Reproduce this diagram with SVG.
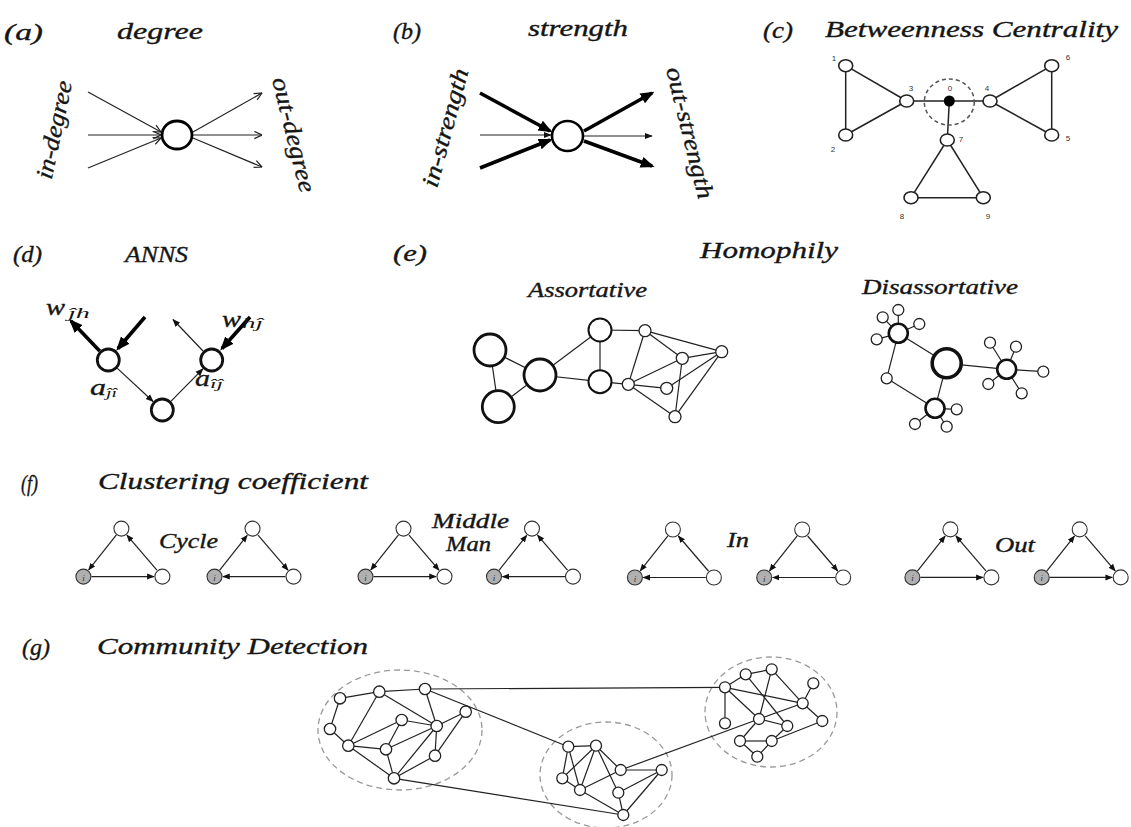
<svg xmlns="http://www.w3.org/2000/svg" width="1131" height="827" viewBox="0 0 1131 827">
<defs>
<style>
.t{font-family:"Liberation Serif","Times New Roman",serif;font-style:italic;fill:#151515;stroke:#151515;stroke-width:0.35}
.sub{stroke:none}
.h{font-size:23px}
.s{font-size:20px}
.num{font-family:"Liberation Sans",Arial,sans-serif;font-size:8px;fill:#333;text-anchor:middle}
.thin{stroke:#222;stroke-width:1.2;fill:none}
.thick{stroke:#000;stroke-width:3.6;fill:none}
.e{stroke:#222;stroke-width:1.2;fill:none}
.ec{stroke:#222;stroke-width:1.5;fill:none}
.n{fill:#fff;stroke:#222;stroke-width:1.3}
.nc{fill:#fff;stroke:#222;stroke-width:1.6}
.nb{fill:#fff;stroke:#111;stroke-width:2.8}
.nm{fill:#fff;stroke:#111;stroke-width:2}
.gi{fill:#b0b0b0;stroke:#333;stroke-width:1.1}
.fi{fill:#fff;stroke:#333;stroke-width:1.1}
.il{font-family:"Liberation Serif",serif;font-style:italic;font-size:9px;fill:#333;text-anchor:middle}
.dash{fill:none;stroke:#999;stroke-width:1.3;stroke-dasharray:6 4}
.dashc{fill:none;stroke:#555;stroke-width:1.5;stroke-dasharray:4 3}
</style>
<marker id="vOpen" viewBox="0 0 10 10" refX="9.5" refY="5" markerWidth="9" markerHeight="9" orient="auto" markerUnits="userSpaceOnUse"><path d="M1,1 L9.5,5 L1,9" fill="none" stroke="#222" stroke-width="1.3"/></marker>
<marker id="triB" viewBox="0 0 10 10" refX="8" refY="5" markerWidth="14" markerHeight="14" orient="auto" markerUnits="userSpaceOnUse"><path d="M0,1 L10,5 L0,9 z" fill="#000"/></marker>
<marker id="triS" viewBox="0 0 10 10" refX="9" refY="5" markerWidth="8" markerHeight="8" orient="auto" markerUnits="userSpaceOnUse"><path d="M0,1 L10,5 L0,9 z" fill="#111"/></marker>
<marker id="triF" viewBox="0 0 10 10" refX="9" refY="5" markerWidth="7.5" markerHeight="7.5" orient="auto" markerUnits="userSpaceOnUse"><path d="M0,1 L10,5 L0,9 z" fill="#111"/></marker>
</defs>
<rect width="1131" height="827" fill="#fff"/>

<g id="titles">
<text class="t h" x="4" y="40" textLength="39" lengthAdjust="spacingAndGlyphs">(a)</text>
<text class="t h" x="117" y="39" textLength="86" lengthAdjust="spacingAndGlyphs">degree</text>
<text class="t h" x="393" y="39" textLength="28" lengthAdjust="spacingAndGlyphs">(b)</text>
<text class="t h" x="528" y="36" textLength="100" lengthAdjust="spacingAndGlyphs">strength</text>
<text class="t h" x="763" y="38" textLength="30" lengthAdjust="spacingAndGlyphs">(c)</text>
<text class="t h" x="825" y="37" textLength="293" lengthAdjust="spacingAndGlyphs">Betweenness Centrality</text>
<text class="t h" x="13" y="262" textLength="29" lengthAdjust="spacingAndGlyphs">(d)</text>
<text class="t h" x="125" y="262" textLength="63" lengthAdjust="spacingAndGlyphs">ANNS</text>
<text class="t h" x="393" y="261" textLength="34" lengthAdjust="spacingAndGlyphs">(e)</text>
<text class="t h" x="700" y="258" textLength="138" lengthAdjust="spacingAndGlyphs">Homophily</text>
<text class="t s" x="528" y="297" textLength="119" lengthAdjust="spacingAndGlyphs">Assortative</text>
<text class="t s" x="862" y="294" textLength="156" lengthAdjust="spacingAndGlyphs">Disassortative</text>
<text class="t h" x="21" y="491" textLength="17" lengthAdjust="spacingAndGlyphs">(f)</text>
<text class="t h" x="98" y="489" textLength="270" lengthAdjust="spacingAndGlyphs">Clustering coefficient</text>
<text class="t s" x="159" y="548" textLength="59" lengthAdjust="spacingAndGlyphs">Cycle</text>
<text class="t s" x="432" y="528" textLength="77" lengthAdjust="spacingAndGlyphs">Middle</text>
<text class="t s" x="446" y="551" textLength="45" lengthAdjust="spacingAndGlyphs">Man</text>
<text class="t s" x="727" y="547" textLength="22" lengthAdjust="spacingAndGlyphs">In</text>
<text class="t s" x="995" y="552" textLength="40" lengthAdjust="spacingAndGlyphs">Out</text>
<text class="t h" x="22" y="655" textLength="28" lengthAdjust="spacingAndGlyphs">(g)</text>
<text class="t h" x="97" y="654" textLength="271" lengthAdjust="spacingAndGlyphs">Community Detection</text>
</g>

<g id="panel-a">
<g id="a-node"><ellipse cx="177" cy="135" rx="15" ry="14" fill="#fff" stroke="#000" stroke-width="2.8"/></g>
<g id="a-connectors">
<line class="thin" x1="88" y1="92" x2="161" y2="132" marker-end="url(#vOpen)"/>
<line class="thin" x1="88" y1="135" x2="161" y2="135" marker-end="url(#vOpen)"/>
<line class="thin" x1="88" y1="168" x2="161" y2="138" marker-end="url(#vOpen)"/>
<line class="thin" x1="193" y1="132" x2="262" y2="93" marker-end="url(#vOpen)"/>
<line class="thin" x1="193" y1="135" x2="262" y2="135" marker-end="url(#vOpen)"/>
<line class="thin" x1="193" y1="138" x2="262" y2="167" marker-end="url(#vOpen)"/>
</g>
<text class="t" font-size="24" text-anchor="middle" transform="translate(55,130) rotate(-78)" x="0" y="7" textLength="100" lengthAdjust="spacingAndGlyphs">in-degree</text>
<text class="t" font-size="24" text-anchor="middle" transform="translate(293,135) rotate(76)" x="0" y="7" textLength="118" lengthAdjust="spacingAndGlyphs">out-degree</text>
</g>

<g id="panel-b">
<g id="b-node"><ellipse cx="567.5" cy="136" rx="15.5" ry="15" fill="#fff" stroke="#000" stroke-width="2.6"/></g>
<g id="b-connectors">
<line class="thick" x1="480" y1="93" x2="550" y2="131" marker-end="url(#triB)"/>
<line class="thin" x1="480" y1="135" x2="551" y2="135" marker-end="url(#triS)"/>
<line class="thick" x1="480" y1="168" x2="550" y2="140" marker-end="url(#triB)"/>
<line class="thick" x1="584" y1="131" x2="652" y2="93" marker-end="url(#triB)"/>
<line class="thin" x1="584" y1="136" x2="652" y2="136" marker-end="url(#triS)"/>
<line class="thick" x1="584" y1="141" x2="652" y2="166" marker-end="url(#triB)"/>
</g>
<text class="t" font-size="24" text-anchor="middle" transform="translate(446,128) rotate(-75)" x="0" y="7" textLength="122" lengthAdjust="spacingAndGlyphs">in-strength</text>
<text class="t" font-size="24" text-anchor="middle" transform="translate(689,133) rotate(76)" x="0" y="7" textLength="135" lengthAdjust="spacingAndGlyphs">out-strength</text>
</g>

<g id="panel-c">
<g id="c-connectors">
<line class="ec" x1="845.7" y1="65.7" x2="845.7" y2="135"/>
<line class="ec" x1="845.7" y1="65.7" x2="906.7" y2="101"/>
<line class="ec" x1="845.7" y1="135" x2="906.7" y2="101"/>
<line class="ec" x1="906.7" y1="101" x2="949.3" y2="101"/>
<line class="ec" x1="949.3" y1="101" x2="990" y2="101"/>
<line class="ec" x1="990" y1="101" x2="1051.7" y2="65.7"/>
<line class="ec" x1="990" y1="101" x2="1051.7" y2="135"/>
<line class="ec" x1="1051.7" y1="65.7" x2="1051.7" y2="135"/>
<line class="ec" x1="949.3" y1="101" x2="947.3" y2="140"/>
<line class="ec" x1="947.3" y1="140" x2="911" y2="197.7"/>
<line class="ec" x1="947.3" y1="140" x2="983.3" y2="197.7"/>
<line class="ec" x1="911" y1="197.7" x2="983.3" y2="197.7"/>
</g>
<ellipse cx="949.3" cy="102" rx="25" ry="23" class="dashc"/>
<g id="c-n1"><ellipse class="nc" cx="845.7" cy="65.7" rx="7" ry="6"/><text class="num" x="834" y="61">1</text></g>
<g id="c-n2"><ellipse class="nc" cx="845.7" cy="135" rx="7" ry="6"/><text class="num" x="833" y="152">2</text></g>
<g id="c-n3"><ellipse class="nc" cx="906.7" cy="101" rx="7" ry="6"/><text class="num" x="911" y="91">3</text></g>
<g id="c-n0"><ellipse cx="949.3" cy="101" rx="5.5" ry="5.5" fill="#000"/><text class="num" x="950" y="91">0</text></g>
<g id="c-n4"><ellipse class="nc" cx="990" cy="101" rx="7" ry="6"/><text class="num" x="987" y="91">4</text></g>
<g id="c-n6"><ellipse class="nc" cx="1051.7" cy="65.7" rx="7" ry="6"/><text class="num" x="1068" y="60">6</text></g>
<g id="c-n5"><ellipse class="nc" cx="1051.7" cy="135" rx="7" ry="6"/><text class="num" x="1068" y="141">5</text></g>
<g id="c-n7"><ellipse class="nc" cx="947.3" cy="140" rx="7" ry="6"/><text class="num" x="961" y="142">7</text></g>
<g id="c-n8"><ellipse class="nc" cx="911" cy="197.7" rx="7" ry="6"/><text class="num" x="902" y="219">8</text></g>
<g id="c-n9"><ellipse class="nc" cx="983.3" cy="197.7" rx="7" ry="6"/><text class="num" x="988" y="219">9</text></g>
</g>

<g id="panel-d">
<g id="d-connectors">
<line class="thick" x1="99.7" y1="351" x2="71" y2="321" marker-end="url(#triB)"/>
<line class="thick" x1="145" y1="317" x2="118" y2="348.5" marker-end="url(#triB)"/>
<line class="thin" x1="203" y1="351" x2="173" y2="319.5" marker-end="url(#triS)"/>
<line class="thick" x1="250" y1="317" x2="222" y2="348.5" marker-end="url(#triB)"/>
<line class="thin" x1="117.1" y1="368.1" x2="153.1" y2="401.5" marker-end="url(#triS)"/>
<line class="thin" x1="171.1" y1="401.1" x2="202.9" y2="368.9" marker-end="url(#triS)"/>
</g>
<g id="d-nL"><circle class="nb" cx="108.3" cy="360" r="11"/></g>
<g id="d-nR"><circle class="nb" cx="211.7" cy="360" r="11"/></g>
<g id="d-nB"><circle class="nb" cx="162.3" cy="410" r="11"/></g>
<text class="t" font-size="24" x="46" y="315" textLength="19" lengthAdjust="spacingAndGlyphs">w</text>
<text class="t sub" font-size="14" x="68" y="318" textLength="22" lengthAdjust="spacingAndGlyphs">ĵh</text>
<text class="t" font-size="24" x="222" y="327" textLength="19" lengthAdjust="spacingAndGlyphs">w</text>
<text class="t sub" font-size="14" x="242" y="328" textLength="21" lengthAdjust="spacingAndGlyphs">hĵ</text>
<text class="t" font-size="24" x="90" y="395" textLength="16" lengthAdjust="spacingAndGlyphs">a</text>
<text class="t sub" font-size="13" x="106" y="397" textLength="11" lengthAdjust="spacingAndGlyphs">ĵî</text>
<text class="t" font-size="24" x="195" y="386" textLength="15" lengthAdjust="spacingAndGlyphs">a</text>
<text class="t sub" font-size="13" x="210" y="388" textLength="13" lengthAdjust="spacingAndGlyphs">îĵ</text>
</g>

<g id="panel-e-assortative">
<g id="e1-connectors">
<line class="e" x1="490" y1="350" x2="498.3" y2="406.7"/>
<line class="e" x1="490" y1="350" x2="540" y2="375"/>
<line class="e" x1="498.3" y1="406.7" x2="540" y2="375"/>
<line class="e" x1="540" y1="375" x2="600" y2="330"/>
<line class="e" x1="540" y1="375" x2="600" y2="381.7"/>
<line class="e" x1="600" y1="330" x2="600" y2="381.7"/>
<line class="e" x1="600" y1="330" x2="645" y2="330.7"/>
<line class="e" x1="600" y1="381.7" x2="628.3" y2="384.3"/>
<line class="e" x1="645" y1="330.7" x2="628.3" y2="384.3"/>
<line class="e" x1="645" y1="330.7" x2="682.3" y2="358.3"/>
<line class="e" x1="645" y1="330.7" x2="721.7" y2="351.7"/>
<line class="e" x1="682.3" y1="358.3" x2="721.7" y2="351.7"/>
<line class="e" x1="682.3" y1="358.3" x2="628.3" y2="384.3"/>
<line class="e" x1="682.3" y1="358.3" x2="675" y2="416.7"/>
<line class="e" x1="628.3" y1="384.3" x2="666.7" y2="388.3"/>
<line class="e" x1="628.3" y1="384.3" x2="675" y2="416.7"/>
<line class="e" x1="666.7" y1="388.3" x2="721.7" y2="351.7"/>
<line class="e" x1="675" y1="416.7" x2="721.7" y2="351.7"/>
</g>
<g id="e1-A"><circle class="nb" cx="490" cy="350" r="16"/></g>
<g id="e1-B"><circle class="nb" cx="498.3" cy="406.7" r="16"/></g>
<g id="e1-C"><circle class="nb" cx="540" cy="375" r="16"/></g>
<g id="e1-D"><circle class="nm" cx="600" cy="330" r="11.5"/></g>
<g id="e1-E"><circle class="nm" cx="600" cy="381.7" r="11.5"/></g>
<g id="e1-F"><circle class="n" cx="645" cy="330.7" r="6"/></g>
<g id="e1-G"><circle class="n" cx="682.3" cy="358.3" r="6"/></g>
<g id="e1-H"><circle class="n" cx="721.7" cy="351.7" r="6"/></g>
<g id="e1-I"><circle class="n" cx="628.3" cy="384.3" r="6"/></g>
<g id="e1-J"><circle class="n" cx="666.7" cy="388.3" r="6"/></g>
<g id="e1-K"><circle class="n" cx="675" cy="416.7" r="6"/></g>
</g>

<g id="panel-e-disassortative">
<g id="e2-connectors">
<line class="e" x1="898.3" y1="333.3" x2="946.7" y2="363.3"/>
<line class="e" x1="946.7" y1="363.3" x2="1006.7" y2="369.3"/>
<line class="e" x1="946.7" y1="363.3" x2="935" y2="408.3"/>
<line class="e" x1="898.3" y1="333.3" x2="886.7" y2="378.3"/>
<line class="e" x1="886.7" y1="378.3" x2="935" y2="408.3"/>
<line class="e" x1="898.3" y1="333.3" x2="882.7" y2="317.3"/>
<line class="e" x1="898.3" y1="333.3" x2="898.3" y2="310"/>
<line class="e" x1="898.3" y1="333.3" x2="919.3" y2="324"/>
<line class="e" x1="898.3" y1="333.3" x2="876.7" y2="339.3"/>
<line class="e" x1="1006.7" y1="369.3" x2="990" y2="342.7"/>
<line class="e" x1="1006.7" y1="369.3" x2="1016" y2="346.7"/>
<line class="e" x1="1006.7" y1="369.3" x2="1043.3" y2="371.7"/>
<line class="e" x1="1006.7" y1="369.3" x2="1021.7" y2="393.3"/>
<line class="e" x1="1006.7" y1="369.3" x2="988.3" y2="384"/>
<line class="e" x1="935" y1="408.3" x2="956.7" y2="409.3"/>
<line class="e" x1="935" y1="408.3" x2="946.7" y2="426.7"/>
<line class="e" x1="935" y1="408.3" x2="915" y2="424"/>
</g>
<g id="e2-P"><circle cx="946.7" cy="363.3" r="14.5" fill="#fff" stroke="#111" stroke-width="3.6"/></g>
<g id="e2-Q"><circle cx="898.3" cy="333.3" r="9.5" fill="#fff" stroke="#111" stroke-width="2.6"/></g>
<g id="e2-R"><circle cx="1006.7" cy="369.3" r="9.5" fill="#fff" stroke="#111" stroke-width="2.6"/></g>
<g id="e2-S"><circle cx="935" cy="408.3" r="9.5" fill="#fff" stroke="#111" stroke-width="2.6"/></g>
<g id="e2-T"><circle class="n" cx="886.7" cy="378.3" r="5.5"/></g>
<g id="e2-q1"><circle class="n" cx="882.7" cy="317.3" r="5.5"/></g>
<g id="e2-q2"><circle class="n" cx="898.3" cy="310" r="5.5"/></g>
<g id="e2-q3"><circle class="n" cx="919.3" cy="324" r="5.5"/></g>
<g id="e2-q4"><circle class="n" cx="876.7" cy="339.3" r="5.5"/></g>
<g id="e2-r1"><circle class="n" cx="990" cy="342.7" r="5.5"/></g>
<g id="e2-r2"><circle class="n" cx="1016" cy="346.7" r="5.5"/></g>
<g id="e2-r3"><circle class="n" cx="1043.3" cy="371.7" r="5.5"/></g>
<g id="e2-r4"><circle class="n" cx="1021.7" cy="393.3" r="5.5"/></g>
<g id="e2-r5"><circle class="n" cx="988.3" cy="384" r="5.5"/></g>
<g id="e2-s1"><circle class="n" cx="956.7" cy="409.3" r="5.5"/></g>
<g id="e2-s2"><circle class="n" cx="946.7" cy="426.7" r="5.5"/></g>
<g id="e2-s3"><circle class="n" cx="915" cy="424" r="5.5"/></g>
</g>

<g id="panel-f">
<g id="f-t1" transform="translate(121.4,528.6)">
<path class="e" d="M-5,6.3 L-32.7,41.3" marker-end="url(#triF)"/>
<path class="e" d="M35.5,41.5 L5.5,6.5" marker-end="url(#triF)"/>
<path class="e" d="M-30,48 L32.5,48" marker-end="url(#triF)"/>
<circle class="fi" cx="0" cy="0" r="7.5"/><circle class="gi" cx="-38" cy="48" r="7.5"/><circle class="fi" cx="41" cy="48" r="7.5"/><text class="il" x="-38" y="52">i</text>
</g>
<g id="f-t2" transform="translate(252.5,528.6)">
<path class="e" d="M-33,41.7 L-5.3,6.7" marker-end="url(#triF)"/>
<path class="e" d="M5.5,6.5 L35.5,41.5" marker-end="url(#triF)"/>
<path class="e" d="M33,48 L-29.5,48" marker-end="url(#triF)"/>
<circle class="fi" cx="0" cy="0" r="7.5"/><circle class="gi" cx="-38" cy="48" r="7.5"/><circle class="fi" cx="41" cy="48" r="7.5"/><text class="il" x="-38" y="52">i</text>
</g>
<g id="f-t3" transform="translate(403.5,528.6)">
<path class="e" d="M-5,6.3 L-32.7,41.3" marker-end="url(#triF)"/>
<path class="e" d="M5.5,6.5 L35.5,41.5" marker-end="url(#triF)"/>
<path class="e" d="M-30,48 L32.5,48" marker-end="url(#triF)"/>
<circle class="fi" cx="0" cy="0" r="7.5"/><circle class="gi" cx="-38" cy="48" r="7.5"/><circle class="fi" cx="41" cy="48" r="7.5"/><text class="il" x="-38" y="52">i</text>
</g>
<g id="f-t4" transform="translate(532,528.6)">
<path class="e" d="M-33,41.7 L-5.3,6.7" marker-end="url(#triF)"/>
<path class="e" d="M35.5,41.5 L5.5,6.5" marker-end="url(#triF)"/>
<path class="e" d="M33,48 L-29.5,48" marker-end="url(#triF)"/>
<circle class="fi" cx="0" cy="0" r="7.5"/><circle class="gi" cx="-38" cy="48" r="7.5"/><circle class="fi" cx="41" cy="48" r="7.5"/><text class="il" x="-38" y="52">i</text>
</g>
<g id="f-t5" transform="translate(672.9,529.5)">
<path class="e" d="M-5,6.3 L-32.7,41.3" marker-end="url(#triF)"/>
<path class="e" d="M35.5,41.5 L5.5,6.5" marker-end="url(#triF)"/>
<path class="e" d="M33,48 L-29.5,48" marker-end="url(#triF)"/>
<circle class="fi" cx="0" cy="0" r="7.5"/><circle class="gi" cx="-38" cy="48" r="7.5"/><circle class="fi" cx="41" cy="48" r="7.5"/><text class="il" x="-38" y="52">i</text>
</g>
<g id="f-t6" transform="translate(802.2,529.5)">
<path class="e" d="M-5,6.3 L-32.7,41.3" marker-end="url(#triF)"/>
<path class="e" d="M5.5,6.5 L35.5,41.5" marker-end="url(#triF)"/>
<path class="e" d="M33,48 L-29.5,48" marker-end="url(#triF)"/>
<circle class="fi" cx="0" cy="0" r="7.5"/><circle class="gi" cx="-38" cy="48" r="7.5"/><circle class="fi" cx="41" cy="48" r="7.5"/><text class="il" x="-38" y="52">i</text>
</g>
<g id="f-t7" transform="translate(950.4,529.4)">
<path class="e" d="M-33,41.7 L-5.3,6.7" marker-end="url(#triF)"/>
<path class="e" d="M35.5,41.5 L5.5,6.5" marker-end="url(#triF)"/>
<path class="e" d="M-30,48 L32.5,48" marker-end="url(#triF)"/>
<circle class="fi" cx="0" cy="0" r="7.5"/><circle class="gi" cx="-38" cy="48" r="7.5"/><circle class="fi" cx="41" cy="48" r="7.5"/><text class="il" x="-38" y="52">i</text>
</g>
<g id="f-t8" transform="translate(1079.7,529.4)">
<path class="e" d="M-33,41.7 L-5.3,6.7" marker-end="url(#triF)"/>
<path class="e" d="M5.5,6.5 L35.5,41.5" marker-end="url(#triF)"/>
<path class="e" d="M-30,48 L32.5,48" marker-end="url(#triF)"/>
<circle class="fi" cx="0" cy="0" r="7.5"/><circle class="gi" cx="-38" cy="48" r="7.5"/><circle class="fi" cx="41" cy="48" r="7.5"/><text class="il" x="-38" y="52">i</text>
</g>
</g>

<g id="panel-g">
<ellipse class="dash" cx="400" cy="730" rx="82" ry="60"/>
<ellipse class="dash" cx="606" cy="775" rx="66" ry="53"/>
<ellipse class="dash" cx="771" cy="712" rx="66" ry="55"/>
<g id="g-connectors">
<line class="e" x1="425" y1="689" x2="725" y2="687.3"/>
<line class="e" x1="425" y1="689" x2="568.3" y2="746.7"/>
<line class="e" x1="394" y1="778.3" x2="623.3" y2="815"/>
<line class="e" x1="620.7" y1="770" x2="759" y2="719"/>
<line class="e" x1="340" y1="698.3" x2="379.3" y2="691.7"/>
<line class="e" x1="340" y1="698.3" x2="330" y2="729"/>
<line class="e" x1="330" y1="729" x2="348.3" y2="745.7"/>
<line class="e" x1="379.3" y1="691.7" x2="348.3" y2="745.7"/>
<line class="e" x1="379.3" y1="691.7" x2="436.7" y2="726"/>
<line class="e" x1="379.3" y1="691.7" x2="425" y2="689"/>
<line class="e" x1="425" y1="689" x2="436.7" y2="726"/>
<line class="e" x1="465.7" y1="711.7" x2="436.7" y2="726"/>
<line class="e" x1="465.7" y1="711.7" x2="435" y2="755.7"/>
<line class="e" x1="348.3" y1="745.7" x2="401.7" y2="720"/>
<line class="e" x1="401.7" y1="720" x2="436.7" y2="726"/>
<line class="e" x1="401.7" y1="720" x2="386" y2="749.3"/>
<line class="e" x1="348.3" y1="745.7" x2="386" y2="749.3"/>
<line class="e" x1="386" y1="749.3" x2="436.7" y2="726"/>
<line class="e" x1="348.3" y1="745.7" x2="394" y2="778.3"/>
<line class="e" x1="386" y1="749.3" x2="394" y2="778.3"/>
<line class="e" x1="394" y1="778.3" x2="436.7" y2="726"/>
<line class="e" x1="394" y1="778.3" x2="435" y2="755.7"/>
<line class="e" x1="436.7" y1="726" x2="435" y2="755.7"/>
<line class="e" x1="568.3" y1="746.7" x2="596" y2="745.7"/>
<line class="e" x1="568.3" y1="746.7" x2="562.3" y2="778.3"/>
<line class="e" x1="568.3" y1="746.7" x2="580" y2="790"/>
<line class="e" x1="596" y1="745.7" x2="562.3" y2="778.3"/>
<line class="e" x1="596" y1="745.7" x2="580" y2="790"/>
<line class="e" x1="596" y1="745.7" x2="620.7" y2="770"/>
<line class="e" x1="596" y1="745.7" x2="618.3" y2="792.7"/>
<line class="e" x1="562.3" y1="778.3" x2="580" y2="790"/>
<line class="e" x1="580" y1="790" x2="620.7" y2="770"/>
<line class="e" x1="580" y1="790" x2="623.3" y2="815"/>
<line class="e" x1="620.7" y1="770" x2="661.7" y2="770"/>
<line class="e" x1="661.7" y1="770" x2="618.3" y2="792.7"/>
<line class="e" x1="661.7" y1="770" x2="623.3" y2="815"/>
<line class="e" x1="618.3" y1="792.7" x2="623.3" y2="815"/>
<line class="e" x1="725" y1="687.3" x2="745.7" y2="674.3"/>
<line class="e" x1="745.7" y1="674.3" x2="771.7" y2="669.3"/>
<line class="e" x1="725" y1="687.3" x2="725" y2="723.3"/>
<line class="e" x1="725" y1="687.3" x2="802.7" y2="703.3"/>
<line class="e" x1="725" y1="687.3" x2="759" y2="719"/>
<line class="e" x1="745.7" y1="674.3" x2="787.3" y2="726"/>
<line class="e" x1="771.7" y1="669.3" x2="759" y2="719"/>
<line class="e" x1="771.7" y1="669.3" x2="802.7" y2="703.3"/>
<line class="e" x1="813.3" y1="683.3" x2="802.7" y2="703.3"/>
<line class="e" x1="802.7" y1="703.3" x2="822.3" y2="721"/>
<line class="e" x1="802.7" y1="703.3" x2="759" y2="719"/>
<line class="e" x1="759" y1="719" x2="787.3" y2="726"/>
<line class="e" x1="787.3" y1="726" x2="771.7" y2="741"/>
<line class="e" x1="822.3" y1="721" x2="771.7" y2="741"/>
<line class="e" x1="759" y1="719" x2="740" y2="741"/>
<line class="e" x1="740" y1="741" x2="771.7" y2="741"/>
<line class="e" x1="740" y1="741" x2="757.3" y2="756.7"/>
<line class="e" x1="771.7" y1="741" x2="757.3" y2="756.7"/>
</g>
<g id="g-left-nodes">
<circle id="gl1" class="n" cx="340" cy="698.3" r="5.7"/>
<circle id="gl2" class="n" cx="379.3" cy="691.7" r="5.7"/>
<circle id="gl3" class="n" cx="425" cy="689" r="5.7"/>
<circle id="gl4" class="n" cx="465.7" cy="711.7" r="5.7"/>
<circle id="gl5" class="n" cx="330" cy="729" r="5.7"/>
<circle id="gl6" class="n" cx="348.3" cy="745.7" r="5.7"/>
<circle id="gl7" class="n" cx="401.7" cy="720" r="5.7"/>
<circle id="gl8" class="n" cx="436.7" cy="726" r="5.7"/>
<circle id="gl9" class="n" cx="386" cy="749.3" r="5.7"/>
<circle id="gl10" class="n" cx="435" cy="755.7" r="5.7"/>
<circle id="gl11" class="n" cx="394" cy="778.3" r="5.7"/>
</g>
<g id="g-mid-nodes">
<circle id="gm1" class="n" cx="568.3" cy="746.7" r="5.5"/>
<circle id="gm2" class="n" cx="596" cy="745.7" r="5.5"/>
<circle id="gm3" class="n" cx="562.3" cy="778.3" r="5.5"/>
<circle id="gm4" class="n" cx="580" cy="790" r="5.5"/>
<circle id="gm5" class="n" cx="620.7" cy="770" r="5.5"/>
<circle id="gm6" class="n" cx="661.7" cy="770" r="5.5"/>
<circle id="gm7" class="n" cx="618.3" cy="792.7" r="5.5"/>
<circle id="gm8" class="n" cx="623.3" cy="815" r="5.5"/>
</g>
<g id="g-right-nodes">
<circle id="gr1" class="n" cx="725" cy="687.3" r="5.5"/>
<circle id="gr2" class="n" cx="745.7" cy="674.3" r="5.5"/>
<circle id="gr3" class="n" cx="771.7" cy="669.3" r="5.5"/>
<circle id="gr4" class="n" cx="813.3" cy="683.3" r="5.5"/>
<circle id="gr5" class="n" cx="802.7" cy="703.3" r="5.5"/>
<circle id="gr6" class="n" cx="822.3" cy="721" r="5.5"/>
<circle id="gr7" class="n" cx="725" cy="723.3" r="5.5"/>
<circle id="gr8" class="n" cx="759" cy="719" r="5.5"/>
<circle id="gr9" class="n" cx="787.3" cy="726" r="5.5"/>
<circle id="gr10" class="n" cx="740" cy="741" r="5.5"/>
<circle id="gr11" class="n" cx="771.7" cy="741" r="5.5"/>
<circle id="gr12" class="n" cx="757.3" cy="756.7" r="5.5"/>
</g>
</g>
</svg>
